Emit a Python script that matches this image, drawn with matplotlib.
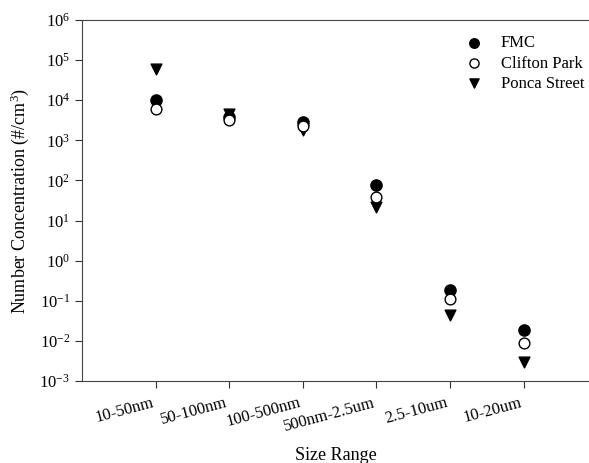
import numpy as np
import matplotlib
matplotlib.use("Agg")
import matplotlib.pyplot as plt

plt.rcParams['font.family'] = ['Liberation Serif', 'DejaVu Serif']
plt.rcParams['mathtext.fontset'] = 'custom'
plt.rcParams['mathtext.rm'] = 'Liberation Serif'
plt.rcParams['mathtext.it'] = 'Liberation Serif:italic'

size_ranges = ['10-50nm', '50-100nm', '100-500nm', '500nm-2.5um', '2.5-10um', '10-20um']
fmc = [1.0e4, 3.8e3, 2.9e3, 77, 0.19, 0.019]
clifton_park = [6.0e3, 3.2e3, 2.3e3, 38, 0.11, 0.009]
ponca_street = [6.0e4, 4.5e3, 1.8e3, 22, 0.045, 0.0029]

x = np.arange(1, len(size_ranges) + 1)

fig = plt.figure(figsize=(5.89, 4.63), dpi=100)
ax = fig.add_axes([82 / 589, 1 - 381 / 463, 1 - 82 / 589, 361 / 463])

ax.scatter(x, fmc, marker='o', s=65, color='black', label='FMC', zorder=3)
ax.scatter(x, clifton_park, marker='o', s=60, facecolor='white', edgecolor='black',
           linewidth=1, label='Clifton Park', zorder=4)
ax.scatter(x, ponca_street, marker='v', s=60, color='black', label='Ponca Street', zorder=2)

ax.set_yscale('log')
ax.set_ylim(1e-3, 1e6)
ax.set_xlim(0, 6.89)
ax.set_yticks([10.0 ** k for k in range(-3, 7)])
ax.set_yticklabels([r'$10^{%d}$' % k for k in range(-3, 7)])
ax.minorticks_off()
ax.set_xticks(x)
ax.set_xticklabels(size_ranges, rotation=15, ha='right')

ax.tick_params(axis='both', direction='out', length=5, labelsize=12, color='#333333')
ax.tick_params(axis='x', pad=5)
ax.spines['right'].set_visible(False)
for side in ['left', 'top', 'bottom']:
    ax.spines[side].set_color('#444444')

ax.set_xlabel('Size Range', fontsize=13, labelpad=9)
ax.set_ylabel('Number Concentration (#/cm$^3$)', fontsize=13, labelpad=6)

ax.legend(loc='upper right', bbox_to_anchor=(1.01, 0.985), frameon=False, fontsize=12,
          handletextpad=0.6, labelspacing=0.25, borderaxespad=0.2, markerscale=0.85)

fig.savefig('out.png', dpi=100)
